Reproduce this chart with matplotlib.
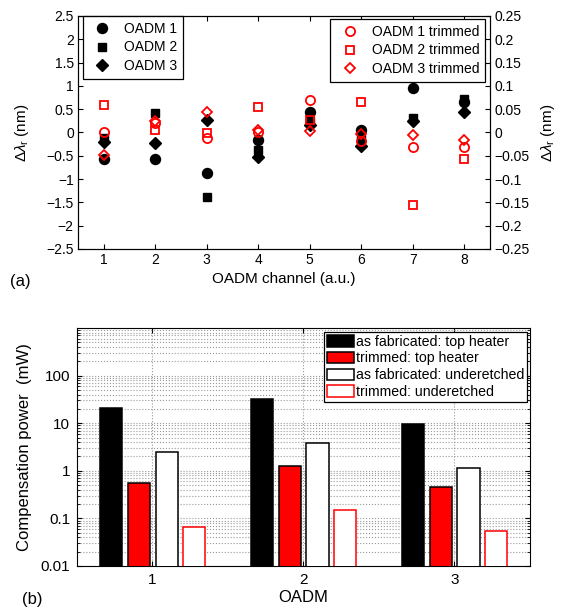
import numpy as np
import matplotlib.pyplot as plt
from matplotlib.ticker import FuncFormatter, LogLocator, NullFormatter
from matplotlib.lines import Line2D

plt.rcParams['font.family'] = ['Liberation Sans', 'DejaVu Sans']
plt.rcParams['mathtext.fontset'] = 'custom'
plt.rcParams['mathtext.rm'] = 'Liberation Sans'
plt.rcParams['mathtext.it'] = 'Liberation Sans:italic'

# panel (a): resonance offset per channel
channels = [1, 2, 3, 4, 5, 6, 7, 8]
oadm1 = [-0.57, -0.57, -0.88, -0.16, 0.43, 0.06, 0.96, 0.65]
oadm2 = [-0.12, 0.41, -1.39, -0.37, 0.24, -0.15, 0.32, 0.71]
oadm3 = [-0.20, -0.23, 0.26, -0.53, 0.15, -0.28, 0.24, 0.44]
oadm1_trim = [0.0, 0.021, -0.012, 0.001, 0.07, -0.018, -0.031, -0.031]
oadm2_trim = [0.058, 0.006, -0.002, 0.055, 0.027, 0.065, -0.155, -0.056]
oadm3_trim = [-0.049, 0.025, 0.043, 0.006, 0.004, -0.004, -0.006, -0.016]

# panel (b): compensation power (mW)
oadm_ids = [1, 2, 3]
fab_top = [20.6, 32.0, 9.6]
trim_top = [0.56, 1.28, 0.46]
fab_under = [2.45, 3.8, 1.17]
trim_under = [0.066, 0.148, 0.054]


def fmt(v, pos):
    v = round(v, 6) + 0.0
    if abs(v) < 1e-9:
        return '0'
    return ('%g' % v).replace('-', '\u2212')


fig = plt.figure(figsize=(5.62, 6.14), dpi=100)

# ---- (a)
ax = fig.add_axes([0.1388, 0.5945, 0.733, 0.3795])
ax2 = ax.twinx()

ax.plot(channels, oadm1, 'o', color='black', ms=7.2, ls='none')
ax.plot(channels, oadm2, 's', color='black', ms=5.8, ls='none')
ax.plot(channels, oadm3, 'D', color='black', ms=6.0, ls='none')
ax2.plot(channels, oadm1_trim, 'o', mfc='none', mec='red', mew=1.3, ms=6.6, ls='none')
ax2.plot(channels, oadm2_trim, 's', mfc='none', mec='red', mew=1.3, ms=5.4, ls='none')
ax2.plot(channels, oadm3_trim, 'D', mfc='none', mec='red', mew=1.3, ms=5.6, ls='none')

ax.set_xlim(0.5, 8.5)
ax.set_ylim(-2.5, 2.5)
ax2.set_ylim(-0.25, 0.25)
ax.set_xticks(channels)
ax.set_yticks(np.arange(-2.5, 2.51, 0.5))
ax2.set_yticks(np.arange(-0.25, 0.251, 0.05))
ax.yaxis.set_major_formatter(FuncFormatter(fmt))
ax2.yaxis.set_major_formatter(FuncFormatter(fmt))
ax.tick_params(direction='in', length=3.5, labelsize=10, top=True, right=False, pad=3)
ax2.tick_params(direction='in', length=3.5, labelsize=10, pad=3)
ax.set_xlabel('OADM channel (a.u.)', fontsize=11)
ax.set_ylabel('$\\Delta\\lambda_\\mathrm{r}$ (nm)', fontsize=11)
ax2.set_ylabel('$\\Delta\\lambda_\\mathrm{r}$ (nm)', fontsize=11)
ax.xaxis.set_label_coords(0.5, -0.10)
ax.yaxis.set_label_coords(-0.115, 0.5)
ax2.yaxis.set_label_coords(1.12, 0.5)

h1 = [Line2D([], [], marker=m, color='black', ls='none', ms=s)
      for m, s in zip(['o', 's', 'D'], [7.2, 5.8, 6.0])]
leg1 = ax.legend(h1, ['OADM 1', 'OADM 2', 'OADM 3'], loc='upper left',
                 bbox_to_anchor=(0.011, 1.0), borderaxespad=0, fontsize=10,
                 fancybox=False, edgecolor='black', framealpha=1,
                 labelspacing=0.35, handletextpad=0.6, borderpad=0.4)
leg1.get_frame().set_linewidth(0.9)
h2 = [Line2D([], [], marker=m, mfc='none', mec='red', mew=1.3, ls='none', ms=s)
      for m, s in zip(['o', 's', 'D'], [6.6, 5.4, 5.6])]
leg2 = ax2.legend(h2, ['OADM 1 trimmed', 'OADM 2 trimmed', 'OADM 3 trimmed'],
                  loc='upper right', bbox_to_anchor=(0.988, 0.987), borderaxespad=0,
                  fontsize=10, fancybox=False, edgecolor='black', framealpha=1,
                  labelspacing=0.35, handletextpad=0.6, borderpad=0.4)
leg2.get_frame().set_linewidth(0.9)
fig.text(0.018, 0.542, '(a)', fontsize=12, va='center')

# ---- (b)
bx = fig.add_axes([0.137, 0.0782, 0.806, 0.3876])
x = np.array(oadm_ids, dtype=float)
w = 0.146
bx.bar(x - 0.273, fab_top, w, color='black', edgecolor='black', lw=1.1, zorder=3,
       label='as fabricated: top heater')
bx.bar(x - 0.09, trim_top, w, color='red', edgecolor='black', lw=1.1, zorder=3,
       label='trimmed: top heater')
bx.bar(x + 0.093, fab_under, w, color='white', edgecolor='black', lw=1.1, zorder=3,
       label='as fabricated: underetched')
bx.bar(x + 0.276, trim_under, w, color='white', edgecolor='red', lw=1.1, zorder=3,
       label='trimmed: underetched')
bx.set_yscale('log')
bx.set_xlim(0.5, 3.5)
bx.set_ylim(0.01, 1000)
bx.set_xticks(oadm_ids)
bx.set_yticks([0.01, 0.1, 1, 10, 100])
bx.yaxis.set_major_formatter(FuncFormatter(fmt))
bx.yaxis.set_minor_locator(LogLocator(base=10, subs=np.arange(2, 10), numticks=20))
bx.yaxis.set_minor_formatter(NullFormatter())
bx.tick_params(which='both', direction='in', top=True, right=True, labelsize=11)
bx.tick_params(which='major', length=3.5, pad=5)
bx.tick_params(which='minor', length=2)
bx.grid(True, which='both', axis='y', ls=':', color='0.6', lw=0.8, zorder=0)
bx.grid(True, which='major', axis='x', ls=':', color='0.6', lw=0.8, zorder=0)
bx.set_xlabel('OADM', fontsize=12)
bx.set_ylabel('Compensation power  (mW)', fontsize=12)
bx.xaxis.set_label_coords(0.5, -0.1)
bx.yaxis.set_label_coords(-0.1, 0.5)
leg3 = bx.legend(loc='upper right', bbox_to_anchor=(0.993, 0.984), borderaxespad=0,
                 fontsize=10.2, fancybox=False, edgecolor='black', framealpha=1,
                 labelspacing=0.2, handletextpad=0.1, borderpad=0.2,
                 handlelength=1.9, handleheight=0.9)
leg3.get_frame().set_linewidth(0.9)
leg3.set_zorder(5)
fig.text(0.04, 0.023, '(b)', fontsize=12, va='center')

fig.savefig('out.png', dpi=100)
